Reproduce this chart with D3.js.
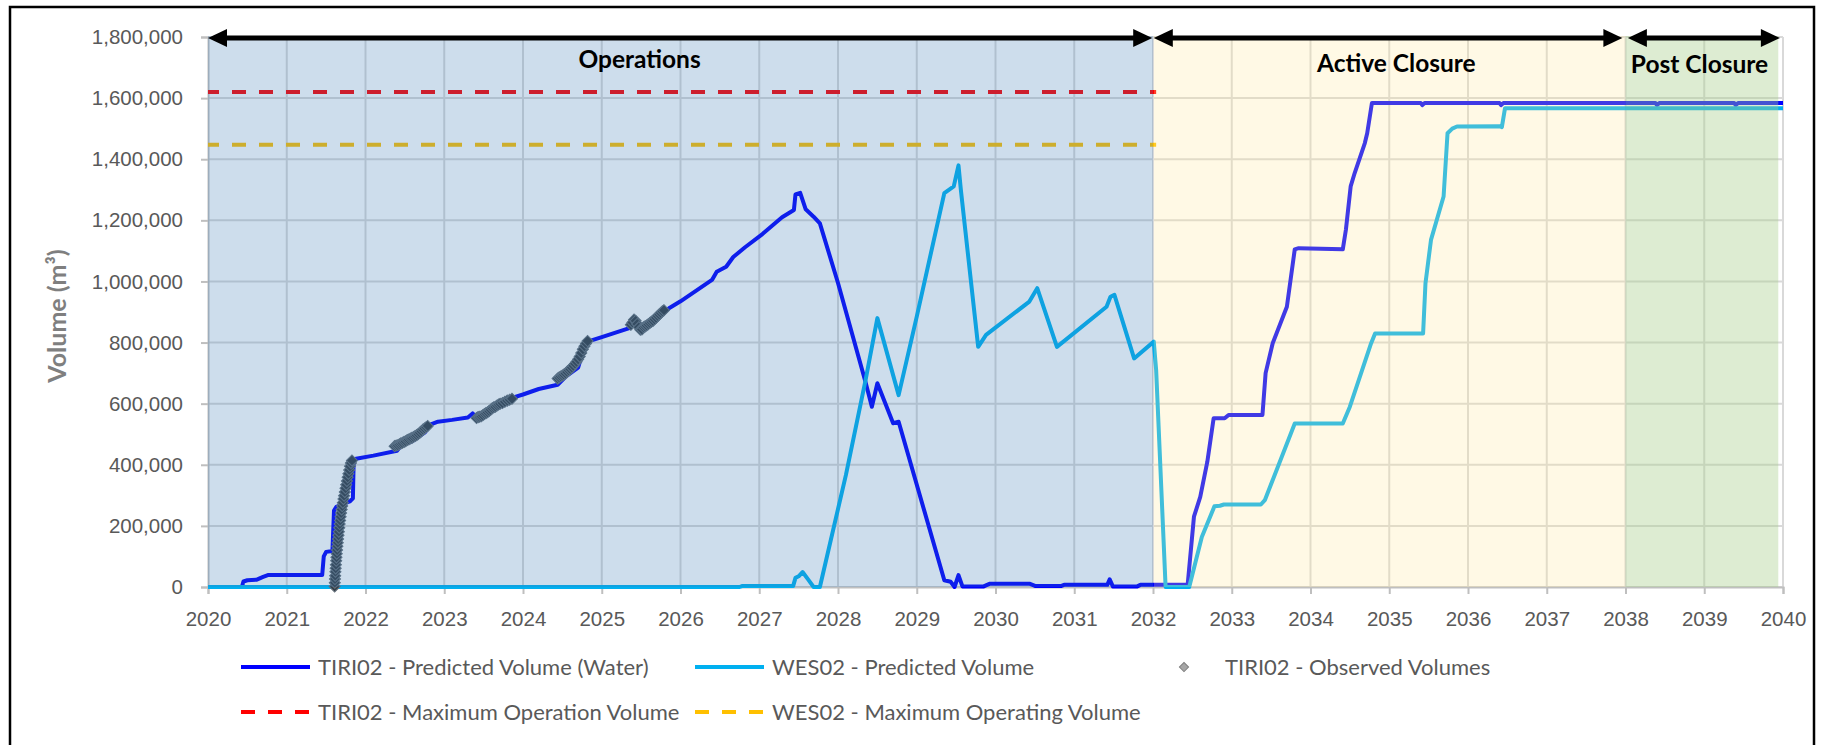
<!DOCTYPE html>
<html>
<head>
<meta charset="utf-8">
<script src="https://cdn.jsdelivr.net/npm/d3@7/dist/d3.min.js"></script>
<style>
  body { margin: 0; background: #fff; }
  svg { display: block; font-family: Lato, "Open Sans", sans-serif; }
</style>
</head>
<body>
<div id="chart"><svg width="1829" height="745"></svg></div>
<script>
// ---- data ----
var xTicks = d3.range(2020, 2041);
var yTicks = d3.range(0, 1800001, 200000);

// [decimal year, volume m3]
var tiriPredicted = [
  [2020.00, 0], [2020.43, 0], [2020.45, 18000], [2020.50, 22000], [2020.62, 24000],
  [2020.70, 33000], [2020.76, 39000], [2021.45, 39000], [2021.47, 100000], [2021.50, 115000],
  [2021.58, 118000], [2021.60, 250000], [2021.63, 262000], [2021.70, 270000], [2021.80, 280000],
  [2021.84, 290000], [2021.85, 415000], [2021.88, 420000], [2022.10, 430000], [2022.40, 446000],
  [2022.45, 462000], [2022.60, 478000], [2022.75, 505000], [2022.83, 532000], [2022.92, 541000],
  [2023.10, 547000], [2023.30, 555000], [2023.36, 568000], [2023.42, 552000], [2023.55, 567000],
  [2023.70, 595000], [2023.85, 618000], [2024.00, 630000], [2024.20, 648000], [2024.44, 662000],
  [2024.55, 690000], [2024.70, 718000], [2024.76, 770000], [2024.82, 803000], [2025.00, 818000],
  [2025.36, 848000], [2025.42, 872000], [2025.48, 840000], [2025.60, 860000], [2025.75, 892000],
  [2025.87, 915000], [2026.00, 935000], [2026.20, 970000], [2026.40, 1005000], [2026.46, 1032000],
  [2026.58, 1048000], [2026.67, 1080000], [2026.82, 1112000], [2027.04, 1155000], [2027.29, 1210000],
  [2027.44, 1234000], [2027.46, 1285000], [2027.52, 1290000], [2027.59, 1236000], [2027.69, 1212000],
  [2027.77, 1190000], [2028.00, 995000], [2028.35, 670000], [2028.43, 590000], [2028.50, 667000],
  [2028.70, 536000], [2028.77, 541000], [2029.35, 22000], [2029.43, 17000], [2029.48, 0],
  [2029.53, 39000], [2029.58, 2000], [2029.85, 2000], [2029.93, 11000], [2030.43, 11000],
  [2030.51, 3000], [2030.83, 3000], [2030.87, 7000], [2031.42, 7000], [2031.45, 25000],
  [2031.49, 2000], [2031.80, 2000], [2031.84, 7000], [2032.44, 7000], [2032.52, 230000],
  [2032.60, 295000], [2032.69, 410000], [2032.77, 552000], [2032.91, 552000], [2032.96, 563000],
  [2033.39, 563000], [2033.43, 700000], [2033.52, 798000], [2033.70, 917000], [2033.80, 1105000],
  [2033.85, 1109000], [2034.41, 1105000], [2034.45, 1170000], [2034.51, 1311000], [2034.56, 1354000],
  [2034.69, 1453000], [2034.72, 1485000], [2034.78, 1584000], [2035.40, 1584000], [2035.42, 1577000],
  [2035.45, 1584000], [2036.40, 1584000], [2036.42, 1577000], [2036.45, 1584000], [2038.38, 1584000],
  [2038.40, 1577000], [2038.43, 1584000], [2039.38, 1584000], [2039.40, 1577000], [2039.43, 1584000],
  [2040.00, 1584000]
];

var wesPredicted = [
  [2020.00, 0], [2026.75, 0], [2026.78, 3000], [2027.43, 3000], [2027.46, 30000],
  [2027.50, 35000], [2027.55, 49000], [2027.62, 25000], [2027.69, 0], [2027.77, 0],
  [2028.10, 366000], [2028.35, 677000], [2028.50, 880000], [2028.77, 628000], [2029.00, 885000],
  [2029.35, 1289000], [2029.47, 1311000], [2029.53, 1380000], [2029.56, 1300000], [2029.78, 786000],
  [2029.88, 825000], [2030.43, 934000], [2030.53, 978000], [2030.78, 786000], [2031.41, 917000],
  [2031.46, 950000], [2031.51, 956000], [2031.76, 748000], [2032.01, 803000], [2032.04, 710000],
  [2032.16, 0], [2032.46, 0], [2032.62, 164000], [2032.78, 264000], [2032.85, 266000],
  [2032.90, 270000], [2033.37, 270000], [2033.42, 284000], [2033.80, 535000], [2034.41, 535000],
  [2034.50, 590000], [2034.77, 798000], [2034.82, 830000], [2035.43, 830000], [2035.46, 994000],
  [2035.53, 1136000], [2035.69, 1278000], [2035.74, 1485000], [2035.80, 1500000], [2035.86, 1507000],
  [2036.40, 1508000], [2036.43, 1505000], [2036.47, 1567000], [2040.00, 1567000]
];

var tiriObserved = [
  [2021.608, 2000], [2021.610, 14000], [2021.612, 26000], [2021.615, 37000], [2021.618, 50000],
  [2021.621, 61000], [2021.624, 73000], [2021.628, 86000], [2021.631, 97000], [2021.635, 109000],
  [2021.639, 121000], [2021.643, 133000], [2021.648, 145000], [2021.652, 157000], [2021.657, 169000],
  [2021.662, 181000], [2021.667, 194000], [2021.672, 206000], [2021.678, 218000], [2021.684, 230000],
  [2021.690, 242000], [2021.697, 254000], [2021.704, 265000], [2021.712, 276000], [2021.720, 288000],
  [2021.728, 299000], [2021.737, 311000], [2021.746, 323000], [2021.755, 335000], [2021.764, 347000],
  [2021.773, 359000], [2021.783, 371000], [2021.793, 383000], [2021.803, 395000], [2021.815, 406000],
  [2021.828, 414000],
  [2022.37, 461000], [2022.39, 463000], [2022.41, 464000], [2022.43, 467000], [2022.45, 470000],
  [2022.47, 472000], [2022.49, 475000], [2022.51, 477000], [2022.53, 481000], [2022.55, 483000],
  [2022.57, 486000], [2022.59, 488000], [2022.61, 491000], [2022.63, 494000], [2022.65, 497000],
  [2022.67, 501000], [2022.69, 505000], [2022.71, 510000], [2022.73, 515000], [2022.75, 519000],
  [2022.77, 523000], [2022.79, 527000],
  [2023.41, 553000], [2023.43, 556000], [2023.45, 557000], [2023.47, 559000], [2023.49, 562000],
  [2023.51, 566000], [2023.53, 569000], [2023.55, 572000], [2023.57, 576000], [2023.59, 580000],
  [2023.61, 585000], [2023.63, 588000], [2023.65, 590000], [2023.67, 594000], [2023.69, 597000],
  [2023.71, 600000], [2023.74, 602000], [2023.77, 606000], [2023.80, 610000], [2023.83, 613000],
  [2023.86, 616000],
  [2024.44, 682000], [2024.46, 686000], [2024.48, 689000], [2024.50, 692000], [2024.52, 695000],
  [2024.54, 699000], [2024.56, 704000], [2024.58, 709000], [2024.60, 713000], [2024.62, 718000],
  [2024.64, 724000], [2024.66, 731000], [2024.68, 737000], [2024.70, 745000], [2024.72, 754000],
  [2024.74, 766000], [2024.76, 778000], [2024.78, 788000], [2024.80, 797000], [2024.82, 805000],
  [2025.37, 858000], [2025.39, 866000], [2025.41, 875000], [2025.43, 871000], [2025.45, 861000],
  [2025.47, 850000], [2025.49, 842000], [2025.51, 843000], [2025.53, 850000], [2025.55, 853000],
  [2025.57, 856000], [2025.59, 860000], [2025.61, 864000], [2025.63, 868000], [2025.65, 871000],
  [2025.67, 876000], [2025.69, 881000], [2025.71, 887000], [2025.73, 892000], [2025.75, 897000],
  [2025.77, 902000], [2025.79, 906000]
];

var tiriMaxOperation = 1620000;
var wesMaxOperating = 1447000;
var limitYears = [2020, 2032.04];

var phases = [
  {name: 'Operations',     start: 2020, end: 2032, from: 2020.00, to: 2031.99, labelAt: 2025.48, fill: 'rgba(55,119,179,0.25)'},
  {name: 'Active Closure', start: 2032, end: 2038, from: 2032.01, to: 2037.96, labelAt: 2035.09, fill: 'rgba(255,230,153,0.25)'},
  {name: 'Post Closure',   start: 2038, end: 2039.94, from: 2038.03, to: 2039.96, labelAt: 2038.94, fill: 'rgba(169,208,142,0.40)'}
];

var legendItems = [
  {label: 'TIRI02 - Predicted Volume (Water)', kind: 'line', color: '#0000ff', dash: null},
  {label: 'WES02 - Predicted Volume', kind: 'line', color: '#00b0f0', dash: null},
  {label: 'TIRI02 - Observed Volumes', kind: 'marker', color: '#a6a6a6', dash: null},
  {label: 'TIRI02 - Maximum Operation Volume', kind: 'line', color: '#ff0000', dash: '14,13'},
  {label: 'WES02 - Maximum Operating Volume', kind: 'line', color: '#ffc000', dash: '14,13'}
];

// ---- setup ----
var svg = d3.select('#chart svg'),
    textGrey = '#595959',
    gridGrey = '#d9d9d9';

var x = d3.scaleLinear().domain([2020, 2040]).range([208, 1783]);
var y = d3.scaleLinear().domain([0, 1800000]).range([587, 37]);

// outer frame (bottom edge falls outside the picture)
svg.append('rect')
  .attr('x', 10).attr('y', 7).attr('width', 1804).attr('height', 760)
  .attr('fill', 'none').attr('stroke', '#000').attr('stroke-width', 2.5);

// gridlines
var grid = svg.append('g').attr('class', 'grid');
grid.selectAll('line.h').data(yTicks).enter().append('line')
  .attr('x1', x(2020)).attr('x2', x(2040))
  .attr('y1', function(d) { return y(d); }).attr('y2', function(d) { return y(d); })
  .attr('stroke', gridGrey).attr('stroke-width', 2);
grid.selectAll('line.v').data(xTicks.slice(1)).enter().append('line')
  .attr('x1', function(d) { return x(d); }).attr('x2', function(d) { return x(d); })
  .attr('y1', y(1800000)).attr('y2', y(0))
  .attr('stroke', gridGrey).attr('stroke-width', 2);

// axes
var xAxis = svg.append('g')
  .attr('transform', 'translate(0,' + y(0) + ')')
  .call(d3.axisBottom(x).tickValues(xTicks).tickFormat(d3.format('d')).tickSize(7).tickPadding(17));
var yAxis = svg.append('g')
  .attr('transform', 'translate(' + x(2020) + ',0)')
  .call(d3.axisLeft(y).tickValues(yTicks).tickFormat(d3.format(',')).tickSize(7).tickPadding(18));
[xAxis, yAxis].forEach(function(a) {
  a.select('.domain').attr('stroke', '#bfbfbf').attr('stroke-width', 2);
  a.selectAll('.tick line').attr('stroke', '#bfbfbf').attr('stroke-width', 2);
  a.selectAll('.tick text').attr('fill', textGrey).style('font-size', '20.5px');
});

svg.append('text')
  .attr('transform', 'translate(66,316) rotate(-90)')
  .attr('text-anchor', 'middle')
  .attr('fill', '#7f7f7f')
  .style('font-size', '25px').style('font-weight', 'bold')
  .text('Volume (m\u00b3)');

// series
var line = d3.line()
  .x(function(d) { return x(d[0]); })
  .y(function(d) { return y(d[1]); });

var plot = svg.append('g').attr('class', 'plot');
plot.append('path').datum(tiriPredicted)
  .attr('d', line).attr('fill', 'none')
  .attr('stroke', '#0000ff').attr('stroke-width', 4).attr('stroke-linejoin', 'round');
plot.append('path').datum(wesPredicted)
  .attr('d', line).attr('fill', 'none')
  .attr('stroke', '#00b0f0').attr('stroke-width', 4).attr('stroke-linejoin', 'round');

var diamond = d3.symbol().type(d3.symbolSquare).size(62);
plot.selectAll('path.obs').data(tiriObserved).enter().append('path')
  .attr('class', 'obs')
  .attr('d', diamond)
  .attr('transform', function(d) { return 'translate(' + x(d[0]) + ',' + y(d[1]) + ') rotate(45)'; })
  .attr('fill', '#353e47').attr('stroke', '#66717b').attr('stroke-width', 1);

[[tiriMaxOperation, '#ff0000'], [wesMaxOperating, '#ffc000']].forEach(function(l) {
  plot.append('line')
    .attr('x1', x(limitYears[0])).attr('x2', x(limitYears[1]))
    .attr('y1', y(l[0])).attr('y2', y(l[0]))
    .attr('stroke', l[1]).attr('stroke-width', 4)
    .attr('stroke-dasharray', '14,13').attr('stroke-dashoffset', 3);
});

// phase shading laid over the chart
svg.append('g').selectAll('rect').data(phases).enter().append('rect')
  .attr('x', function(d, i) { return x(d.start) + (i === 1 ? 1 : 0); })
  .attr('width', function(d, i) { return x(d.end) - x(d.start) - (i === 1 ? 1 : 0); })
  .attr('y', y(1800000) - 1)
  .attr('height', y(0) - y(1800000) + 1)
  .attr('fill', function(d) { return d.fill; });

// phase arrows and names
var arrowY = 38, head = 19, headHalf = 9;
var arrows = svg.append('g');
phases.forEach(function(p, i) {
  var x0 = x(p.from), x1 = x(p.to);
  arrows.append('line')
    .attr('x1', x0 + head - 2).attr('x2', x1 - head + 2)
    .attr('y1', arrowY).attr('y2', arrowY)
    .attr('stroke', '#000').attr('stroke-width', 5);
  arrows.append('path')
    .attr('d', 'M' + x0 + ',' + arrowY + 'L' + (x0 + head) + ',' + (arrowY - headHalf) +
               'L' + (x0 + head) + ',' + (arrowY + headHalf) + 'Z')
    .attr('fill', '#000');
  arrows.append('path')
    .attr('d', 'M' + x1 + ',' + arrowY + 'L' + (x1 - head) + ',' + (arrowY - headHalf) +
               'L' + (x1 - head) + ',' + (arrowY + headHalf) + 'Z')
    .attr('fill', '#000');
  arrows.append('text')
    .attr('x', x(p.labelAt)).attr('y', [68, 72, 73][i])
    .attr('text-anchor', 'middle')
    .attr('fill', '#000')
    .style('font-size', '24.5px').style('font-weight', 'bold')
    .text(p.name);
});

// legend
var legendPos = [[241, 667], [695, 667], [1184, 667], [241, 712], [695, 712]];
var legend = svg.append('g');
legendItems.forEach(function(d, i) {
  var g = legend.append('g').attr('transform', 'translate(' + legendPos[i][0] + ',' + legendPos[i][1] + ')');
  if (d.kind === 'line') {
    g.append('line')
      .attr('x1', 0).attr('x2', 69).attr('y1', 0).attr('y2', 0)
      .attr('stroke', d.color).attr('stroke-width', 4)
      .attr('stroke-dasharray', d.dash);
    g.append('text').attr('x', 77).attr('y', 0).attr('dy', '0.35em')
      .attr('fill', textGrey).style('font-size', '22px').text(d.label);
  } else {
    g.append('path').attr('d', d3.symbol().type(d3.symbolSquare).size(42)).attr('transform', 'rotate(45)')
      .attr('fill', d.color).attr('stroke', '#7f7f7f').attr('stroke-width', 1);
    g.append('text').attr('x', 41).attr('y', 0).attr('dy', '0.35em')
      .attr('fill', textGrey).style('font-size', '22px').text(d.label);
  }
});
</script>
</body>
</html>
